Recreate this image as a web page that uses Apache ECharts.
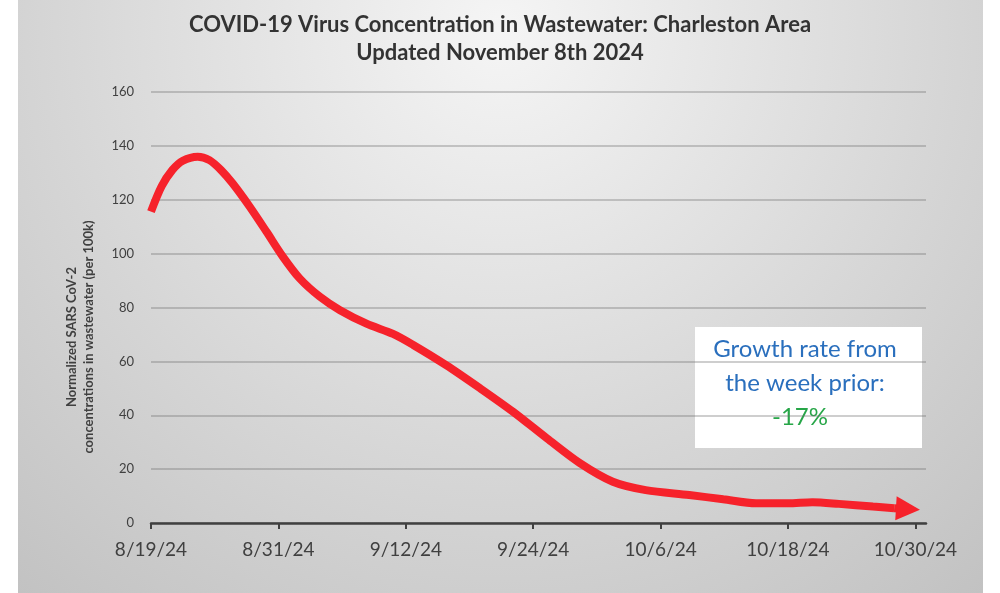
<!DOCTYPE html>
<html>
<head>
<meta charset="utf-8">
<script src="https://cdn.jsdelivr.net/npm/echarts@6/dist/echarts.min.js"></script>
<style>
  html, body { margin: 0; padding: 0; background: #ffffff; }
  #chart { width: 1000px; height: 593px; }
</style>
</head>
<body>
<div id="chart"></div>
<script>
// Days since 8/19/24 and normalized SARS CoV-2 concentration (per 100k)
const dayOffsets = [0, 1, 2, 3, 4.4, 5.5, 6.6, 7.7, 9.3, 10.9, 12.4, 14, 15.9, 17.8, 20.3, 22.8,
  24.7, 27.8, 31, 34.1, 37.3, 40.4, 43.5, 46.6, 50.7, 53.9, 57, 60, 62.3, 64.8, 68, 70];
const concentrations = [115.6, 125, 131, 134.5, 136, 134.7, 131, 126, 117.4, 108, 99, 90.8, 84, 79, 74, 70.2,
  66.1, 58.6, 50, 41.3, 31.4, 22.2, 15.3, 12.2, 10.4, 8.8, 7.3, 7.3, 7.7, 7.1, 6.1, 5.5];
// Arrow head at the end of the trend line: [day, value]
const arrowFrom = [70, 5.5];
const arrowTo = [71.3, 5.2];
// X tick labels every 12 days
const xTickLabels = ['8/19/24', '8/31/24', '9/12/24', '9/24/24', '10/6/24', '10/18/24', '10/30/24'];
const yTicks = [0, 20, 40, 60, 80, 100, 120, 140, 160];

const titleLines = ['COVID-19 Virus Concentration in Wastewater: Charleston Area', 'Updated November 8th 2024'];
const yAxisNameLines = ['Normalized SARS CoV-2', 'concentrations in wastewater (per 100k)'];
const noteLines = ['Growth rate from', 'the week prior:'];
const noteValue = '-17%';

const FONT = 'Lato, "Open Sans", sans-serif';
const RED = '#f6222b';

const chart = echarts.init(document.getElementById('chart'), null, { renderer: 'canvas' });

const option = {
  animation: false,
  backgroundColor: '#ffffff',
  graphic: [
    {
      type: 'rect', z: -10, silent: true,
      shape: { x: 18, y: 0, width: 965, height: 593 },
      style: {
        fill: {
          type: 'radial', x: 0.5, y: 0.05, r: 1.25,
          colorStops: [
            { offset: 0, color: '#f5f5f5' },
            { offset: 0.6, color: '#d6d6d6' },
            { offset: 1, color: '#c2c2c2' }
          ]
        }
      }
    },
    {
      type: 'text', silent: true, z: 5,
      x: 80, y: 337, rotation: Math.PI / 2,
      style: {
        text: yAxisNameLines.join('\n'),
        fontFamily: FONT, fontSize: 13, fontWeight: 'bold', fill: '#404040',
        align: 'center', verticalAlign: 'middle', lineHeight: 17
      }
    },
    {
      type: 'group', z: 20,
      children: [
        {
          type: 'rect', silent: true,
          shape: { x: 695, y: 327, width: 227, height: 121 },
          style: { fill: '#ffffff' }
        },
        {
          type: 'text', silent: true,
          x: 805, y: 366,
          style: {
            text: noteLines.join('\n'),
            fontFamily: FONT, fontSize: 24, fill: '#2a6fbd',
            align: 'center', verticalAlign: 'middle', lineHeight: 34
          }
        },
        {
          type: 'text', silent: true,
          x: 800, y: 417,
          style: {
            text: noteValue,
            fontFamily: FONT, fontSize: 24, fill: '#27a648',
            align: 'center', verticalAlign: 'middle'
          }
        }
      ]
    }
  ],
  title: {
    text: titleLines.join('\n'),
    left: 'center',
    top: 6,
    textStyle: {
      fontFamily: FONT, fontSize: 22, fontWeight: 'bold', color: '#333333', lineHeight: 28
    }
  },
  grid: { left: 151, right: 74, top: 92, bottom: 70, containLabel: false },
  xAxis: {
    type: 'value',
    min: 0, max: 73, interval: 12,
    axisLine: { show: true, lineStyle: { color: '#404040', width: 2.5 } },
    axisTick: { show: true, length: 6, lineStyle: { color: '#404040', width: 2 } },
    splitLine: { show: false },
    axisLabel: {
      showMaxLabel: false,
      margin: 17,
      fontFamily: FONT, fontSize: 19, color: '#404040',
      formatter: function (v) { const i = Math.round(v / 12); return (v % 12 === 0 && xTickLabels[i]) ? xTickLabels[i] : ''; }
    }
  },
  yAxis: {
    type: 'value',
    min: yTicks[0], max: yTicks[yTicks.length - 1], interval: 20,
    axisLine: { show: false },
    axisTick: { show: false },
    splitLine: { show: true, lineStyle: { color: 'rgba(110,110,110,0.45)', width: 1.5 } },
    axisLabel: { margin: 17, fontFamily: FONT, fontSize: 13, color: '#404040' }
  },
  series: [
    {
      type: 'line',
      data: dayOffsets.map((d, i) => [d, concentrations[i]]),
      smooth: 0.3,
      showSymbol: false,
      symbol: 'none',
      lineStyle: { color: RED, width: 8 },
      z: 10,
      markLine: {
        silent: true,
        symbol: ['none', 'triangle'],
        symbolSize: [24, 24],
        label: { show: false },
        lineStyle: { color: RED, width: 8, type: 'solid' },
        itemStyle: { color: RED },
        emphasis: { disabled: true },
        data: [[{ coord: arrowFrom }, { coord: arrowTo }]]
      }
    }
  ]
};

chart.setOption(option);
</script>
</body>
</html>
